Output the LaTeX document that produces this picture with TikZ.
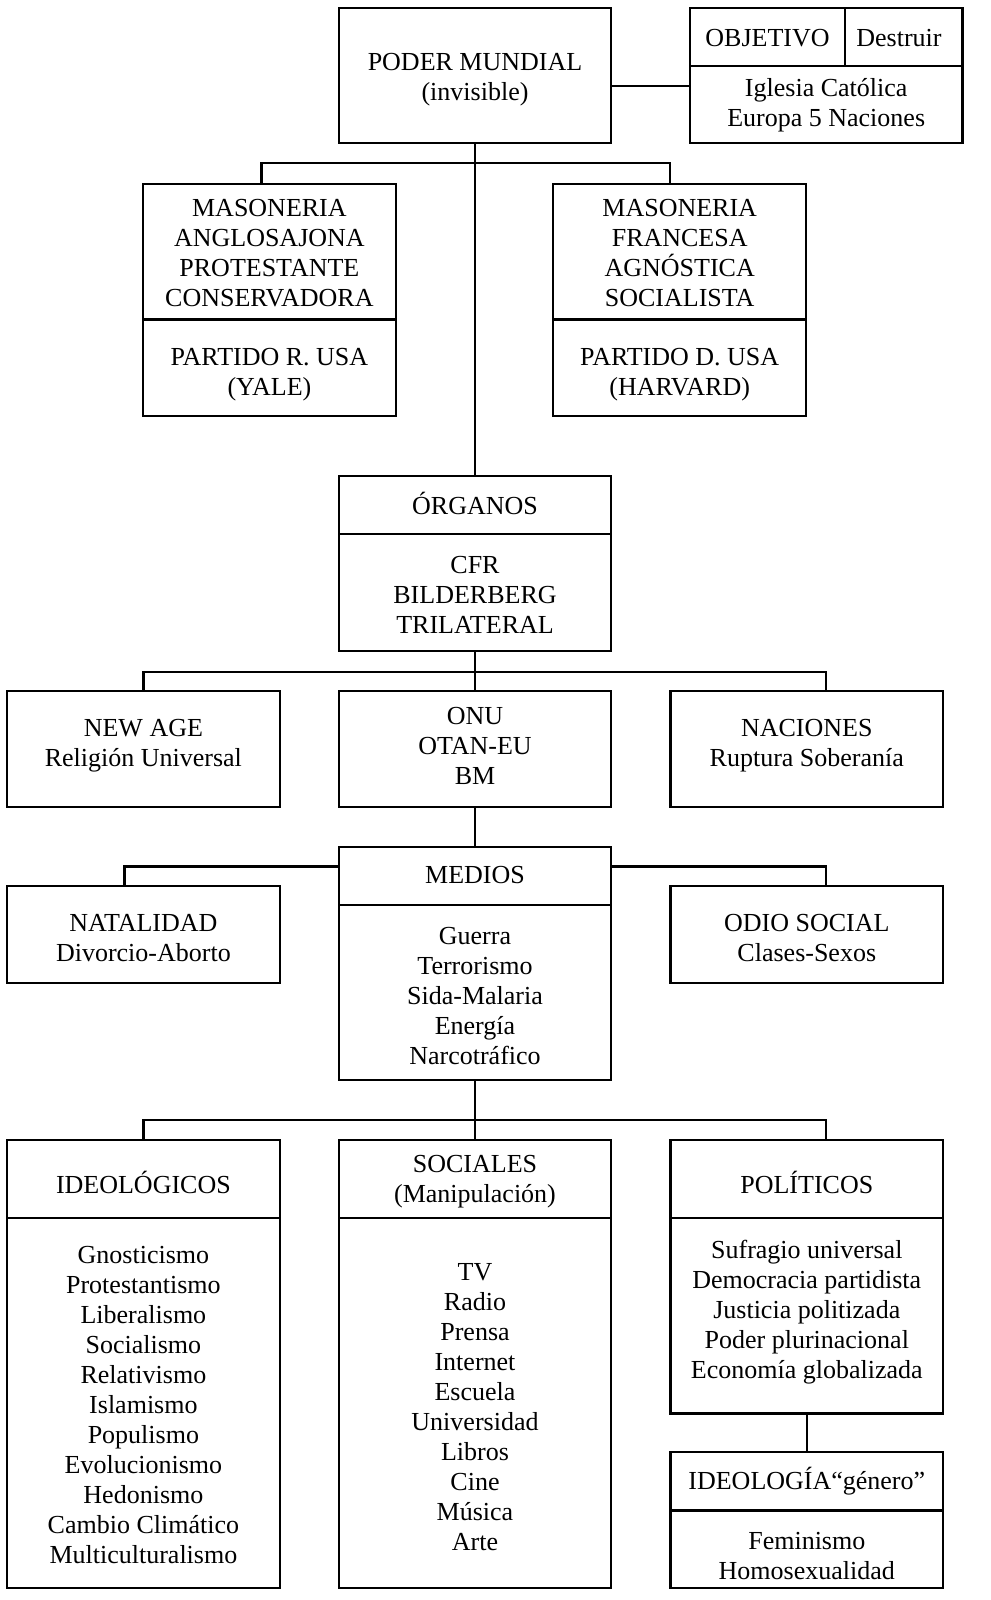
\documentclass[tikz,border=0pt]{standalone}
\usepackage{fontspec}
\setmainfont{Liberation Serif}
\begin{document}
\begin{tikzpicture}[x=0.5pt,y=-0.5pt,
  box/.style={draw=black, line width=1.1pt, inner sep=0pt, outer sep=0pt},
  txt/.style={inner sep=0pt, align=center, font=\fontsize{13}{15}\selectfont},
  link/.style={draw=black, line width=1.1pt}]
\fill[white] (0,0) rectangle (990,1600);
\useasboundingbox (0,0) rectangle (990,1600);

% Row 1
\node[box, minimum width=136.25pt, minimum height=67.35pt] (poder) at (475,75.5) {};
\node[box, minimum width=136.25pt, minimum height=67.35pt] (obj) at (826.2,75.5) {};
\draw[link] (obj.west |- 0,66.3) -- (obj.east |- 0,66.3);
\draw[link] (obj.north -| 845.1,0) -- (845.1,66.3);
\node[txt] (tpoder) at (475,79.5) {PODER MUNDIAL\\(invisible)};
\node[txt] (tobj) at (767.5,38.5) {OBJETIVO};
\node[txt] (tdes) at (899,38.5) {Destruir};
\node[txt] (tigl) at (826.2,105) {Iglesia Católica\\Europa 5 Naciones};
\draw[link] (poder.east |- 0,86) -- (obj.west |- 0,86);

% Row 2
\node[box, minimum width=126.55pt, minimum height=116.35pt] (masl) at (269.4,300) {};
\node[box, minimum width=126.55pt, minimum height=116.35pt] (masr) at (679.7,300) {};
\draw[link] (masl.west |- 0,319.4) -- (masl.east |- 0,319.4);
\draw[link] (masr.west |- 0,319.4) -- (masr.east |- 0,319.4);
\node[txt] (tmasl) at (269.4,253) {MASONERIA\\ANGLOSAJONA\\PROTESTANTE\\CONSERVADORA};
\node[txt] (tparl) at (269.4,375) {PARTIDO R. USA\\(YALE)};
\node[txt] (tmasr) at (679.7,253) {MASONERIA\\FRANCESA\\AGNÓSTICA\\SOCIALISTA};
\node[txt] (tparr) at (679.7,375) {PARTIDO D. USA\\(HARVARD)};

% Row 3
\node[box, minimum width=136.25pt, minimum height=87.75pt] (org) at (475,563.4) {};
\draw[link] (org.west |- 0,533.8) -- (org.east |- 0,533.8);
\node[txt] (torg) at (475,503) {ÓRGANOS};
\node[txt] (tcfr) at (475,595) {CFR\\BILDERBERG\\TRILATERAL};

\draw[link] (poder.south) -- (org.north);
\draw[link] ([xshift=-4pt]masl.north) -- ++(0,-20.4) -| ([xshift=-4.85pt]masr.north);

% Row 4
\node[box, minimum width=136.25pt, minimum height=58.15pt] (newage) at (143.4,749.2) {};
\node[box, minimum width=136.25pt, minimum height=58.15pt] (onu) at (475,749.2) {};
\node[box, minimum width=136.25pt, minimum height=58.15pt] (nac) at (806.8,749.2) {};
\node[txt] (tnew) at (143.4,746) {NEW AGE\\Religión Universal};
\node[txt] (tonu) at (475,745.5) {ONU\\OTAN-EU\\BM};
\node[txt] (tnac) at (806.8,746) {NACIONES\\Ruptura Soberanía};
\draw[link] (org.south) -- (onu.north);
\draw[link] (newage.north) -- ++(0,-19.4) -| ([xshift=9.45pt]nac.north);

% Row 5
\node[box, minimum width=136.25pt, minimum height=116.35pt] (medios) at (475,963.5) {};
\draw[link] (medios.west |- 0,905.3) -- (medios.east |- 0,905.3);
\node[txt] (tmed) at (475,875) {MEDIOS};
\node[txt] (tmedl) at (475,995.6) {Guerra\\Terrorismo\\Sida-Malaria\\Energía\\Narcotráfico};
\node[box, minimum width=136.25pt, minimum height=48.45pt] (nat) at (143.4,934.4) {};
\node[box, minimum width=136.25pt, minimum height=48.45pt] (odio) at (806.8,934.4) {};
\node[txt] (tnat) at (143.4,938) {NATALIDAD\\Divorcio-Aborto};
\node[txt] (todio) at (806.8,938) {ODIO SOCIAL\\Clases-Sexos};
\draw[link] (onu.south) -- (medios.north);
\draw[link] ([yshift=-9.7pt]medios.north west) -| ([xshift=-9.45pt]nat.north);
\draw[link] ([yshift=-9.7pt]medios.north east) -| ([xshift=9.45pt]odio.north);

% Row 6
\node[box, minimum width=136.25pt, minimum height=224pt] (ideo) at (143.4,1364) {};
\node[box, minimum width=136.25pt, minimum height=224pt] (soc) at (475,1364) {};
\node[box, minimum width=136.25pt, minimum height=136.75pt] (pol) at (806.8,1276.75) {};
\node[box, minimum width=136.25pt, minimum height=67.85pt] (idg) at (806.8,1520.15) {};
\draw[link] (ideo.west |- 0,1217.6) -- (ideo.east |- 0,1217.6);
\draw[link] (soc.west |- 0,1217.6) -- (soc.east |- 0,1217.6);
\draw[link] (pol.west |- 0,1217.6) -- (pol.east |- 0,1217.6);
\draw[link] (idg.west |- 0,1510.5) -- (idg.east |- 0,1510.5);
\node[txt] (tideo) at (143.4,1182) {IDEOLÓGICOS};
\node[txt] (tideol) at (143.4,1405) {Gnosticismo\\Protestantismo\\Liberalismo\\Socialismo\\Relativismo\\Islamismo\\Populismo\\Evolucionismo\\Hedonismo\\Cambio Climático\\Multiculturalismo};
\node[txt] (tsoc) at (475,1182) {SOCIALES\\(Manipulación)};
\node[txt] (tsocl) at (475,1407) {TV\\Radio\\Prensa\\Internet\\Escuela\\Universidad\\Libros\\Cine\\Música\\Arte};
\node[txt] (tpol) at (806.8,1182) {POLÍTICOS};
\node[txt] (tpoll) at (806.8,1312) {Sufragio universal\\Democracia partidista\\Justicia politizada\\Poder plurinacional\\Economía globalizada};
\node[txt] (tidg) at (806.8,1481) {IDEOLOGÍA“género”};
\node[txt] (tidgl) at (806.8,1556) {Feminismo\\Homosexualidad};
\draw[link] (medios.south) -- (soc.north);
\draw[link] (ideo.north) -- ++(0,-20.4) -| ([xshift=9.45pt]pol.north);
\draw[link] (pol.south) -- (idg.north);
\end{tikzpicture}
\end{document}
